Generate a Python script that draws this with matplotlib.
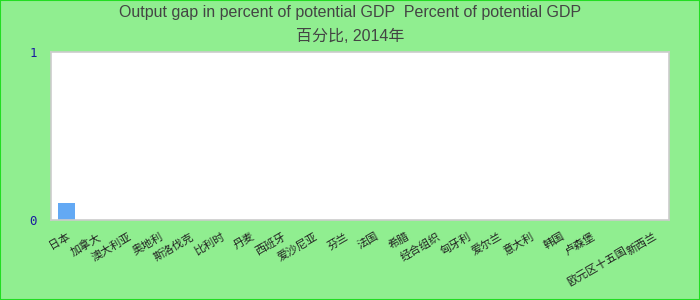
import matplotlib
matplotlib.use("Agg")
import matplotlib.pyplot as plt
from matplotlib.transforms import ScaledTranslation

categories = ["日本", "加拿大", "澳大利亚", "奥地利", "斯洛伐克", "比利时", "丹麦", "西班牙",
              "爱沙尼亚", "芬兰", "法国", "希腊", "经合组织", "匈牙利", "爱尔兰", "意大利",
              "韩国", "卢森堡", "欧元区十五国", "新西兰"]
values = [0.1, 0, 0, 0, 0, 0, 0, 0, 0, 0, 0, 0, 0, 0, 0, 0, 0, 0, 0, 0]
yticks = [0, 1]
title = "Output gap in percent of potential GDP  Percent of potential GDP\n百分比, 2014年"

fig = plt.figure(figsize=(7, 3), dpi=100, facecolor="#90ee90")
fig.patches.append(plt.Rectangle((0, 0), 1, 1, transform=fig.transFigure,
                                 fill=False, edgecolor="#22dd22", linewidth=1.5))
ax = fig.add_axes([51/700, 1-220/300, 618/700, 168/300])
ax.set_facecolor("white")
x = list(range(len(categories)))
ax.bar(x, values, width=0.55, color="#63a9f4")
ax.set_xlim(-0.5, len(categories) - 0.5)
ax.set_ylim(0, 1)
ax.set_yticks(yticks)
ax.set_yticklabels([str(v) for v in yticks], color="#1a1aa0", fontsize=9,
                   family="DejaVu Sans Mono")
ax.set_xticks(x)
ax.set_xticklabels(categories, rotation=30, ha="right", rotation_mode="anchor",
                   fontsize=8, family=["Noto Sans CJK SC", "DejaVu Sans"], color="#222222")
ax.tick_params(axis="both", length=0)
ax.tick_params(axis="y", pad=10)
ax.tick_params(axis="x", pad=8)
for s in ax.spines.values():
    s.set_color("#cccccc")
    s.set_linewidth(1.2)
lbl = ax.get_xticklabels()[18]
lbl.set_transform(lbl.get_transform() + ScaledTranslation(0, -10/72, fig.dpi_scale_trans))
fig.text(0.5, 1-5/300, title, ha="center", va="top", fontsize=11.5, color="#444444",
         family=["Liberation Sans", "Noto Sans CJK SC"], linespacing=1.7)
fig.savefig("out.png", dpi=100, facecolor=fig.get_facecolor())
